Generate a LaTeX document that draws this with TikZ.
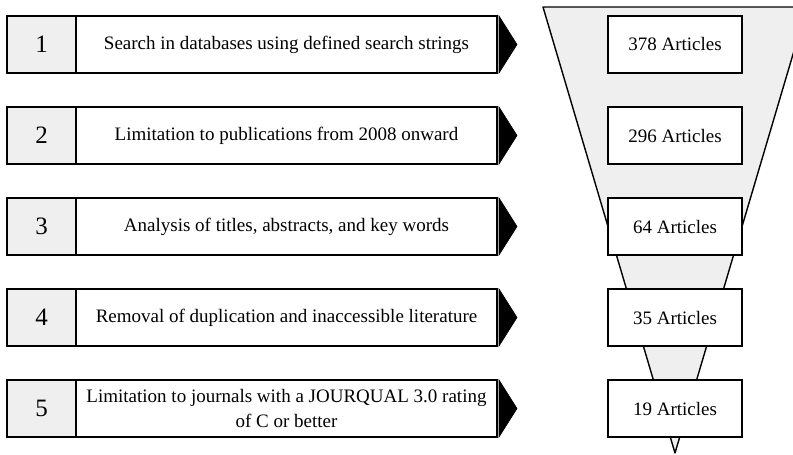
\documentclass[tikz,border=0pt]{standalone}
\usepackage{fontspec}
\setmainfont{Liberation Serif}
\definecolor{cellgray}{HTML}{EFEFEF}
\tikzset{
  numcell/.style={draw, line width=1.4pt, fill=cellgray, minimum width=69pt, minimum height=57pt, inner sep=0pt, outer sep=0pt, font=\fontsize{25}{28}\selectfont, anchor=west},
  txtcell/.style={draw, line width=1.4pt, fill=white, minimum width=421pt, minimum height=57pt, inner sep=0pt, outer sep=0pt, align=center, font=\fontsize{19}{25}\selectfont, anchor=west},
  artbox/.style={draw, line width=1.4pt, fill=white, minimum width=134pt, minimum height=57pt, inner sep=0pt, font=\fontsize{19}{22}\selectfont},
  tipfill/.style={fill=black, draw=black, line width=0.6pt, line join=miter},
  funnel/.style={draw, line width=1.4pt, fill=cellgray, line join=round}
}
\begin{document}
\begin{tikzpicture}[x=1pt, y=-1pt]
\useasboundingbox (0,0) rectangle (793,455);
% funnel
\begin{scope}
  \clip (0,0) rectangle (793,455);
  \draw[funnel] (543,7) -- (807,7) -- (675,453) -- cycle;
\end{scope}
% steps
\node[numcell] (n1) at (7,44.5) {1};
\node[txtcell] (t1) at (n1.east) {Search in databases using defined search strings};
\node[numcell] (n2) at (7,135.5) {2};
\node[txtcell] (t2) at (n2.east) {Limitation to publications from 2008 onward};
\node[numcell] (n3) at (7,226.5) {3};
\node[txtcell] (t3) at (n3.east) {Analysis of titles, abstracts, and key words};
\node[numcell] (n4) at (7,317.5) {4};
\node[txtcell] (t4) at (n4.east) {Removal of duplication and inaccessible literature};
\node[numcell] (n5) at (7,408.5) {5};
\node[txtcell] (t5) at (n5.east) {Limitation to journals with a JOURQUAL 3.0 rating\\of C or better};
\foreach \t in {t1,t2,t3,t4,t5}{
  \fill[tipfill] ([xshift=2pt]\t.north east) -- ([xshift=20pt]\t.east) -- ([xshift=2pt]\t.south east) -- cycle;
}
% article counts
\node[artbox] (a1) at (675,44.5) {378 Articles};
\node[artbox] (a2) at (675,135.5) {296 Articles};
\node[artbox] (a3) at (675,226.5) {64 Articles};
\node[artbox] (a4) at (675,317.5) {35 Articles};
\node[artbox] (a5) at (675,408.5) {19 Articles};
\end{tikzpicture}
\end{document}
